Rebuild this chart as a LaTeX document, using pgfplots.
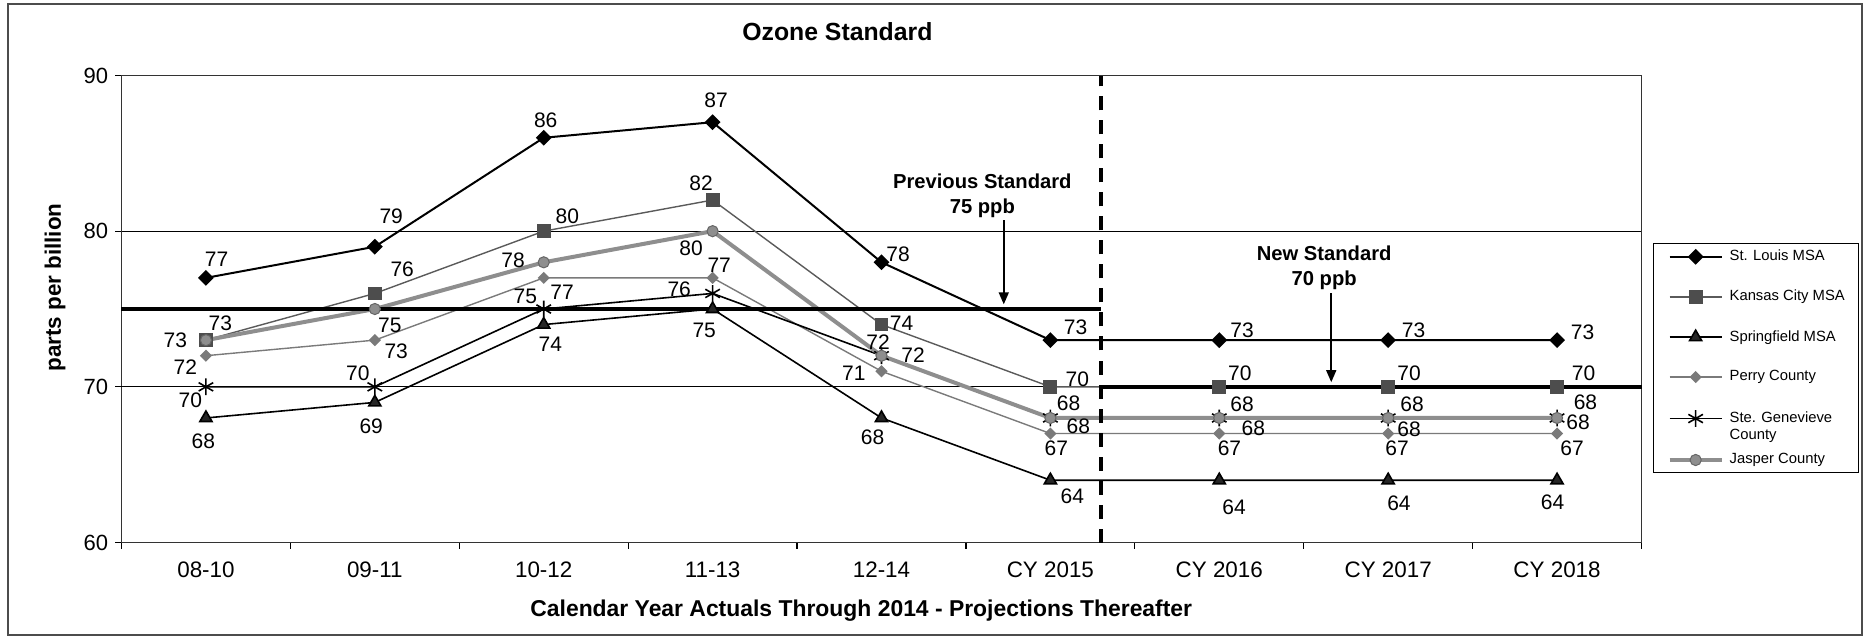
\documentclass[border=0pt]{standalone}
\usepackage{fontspec}
\setmainfont{Liberation Sans}
\usepackage{pgfplots}
\pgfplotsset{compat=1.18}
\usepackage{pgfplotstable}
\usetikzlibrary{arrows.meta}

\definecolor{kcgray}{HTML}{5A5A5A}
\definecolor{kcmark}{HTML}{4D4D4D}
\definecolor{pegray}{HTML}{7A7A7A}
\definecolor{jagray}{HTML}{8E8E8E}

\pgfplotstableread{
x y dx dy
0 77 5.3 9.5
1 79 8.2 15.3
2 86 1 8.8
3 87 1.7 11.2
4 78 8.3 3.8
5 73 12.6 6.2
6 73 11.4 5
7 73 12.7 5
8 73 12.8 4.1
}\stlouis
\pgfplotstableread{
x y dx dy
0 73 7.2 8.3
1 76 13.7 12.2
2 80 11.8 7.2
3 82 -5.8 8.3
4 74 10 0.8
5 70 13.5 3.7
6 70 10.3 6.8
7 70 10.5 6.8
8 70 13.3 6.6
}\kansas
\pgfplotstableread{
x y dx dy
0 68 -1.3 -11.7
1 69 -1.8 -12
2 74 3.3 -10
3 75 -4.2 -10.8
4 68 -4.5 -9.5
5 64 11 -8
6 64 7.4 -13.3
7 64 5.4 -11.7
8 64 -2.2 -11
}\springfield
\pgfplotstableread{
x y dx dy
0 72 -10.3 -5.5
1 73 10.7 -5.5
2 77 9.2 -7.2
3 77 3.3 6.2
4 71 -13.8 -0.8
5 67 3 -7.5
6 67 5.1 -7.2
7 67 4.5 -7.2
8 67 7.5 -7.5
}\perry
\pgfplotstableread{
x y dx dy
0 70 -7.8 -6.8
1 70 -8.5 7
2 75 -9.2 6.2
3 76 -16.7 2.2
4 72 -1.7 6.7
5 68 9.1 7.2
6 68 11.4 6.7
7 68 12 7
8 68 14.2 7.7
}\stegen
\pgfplotstableread{
x y dx dy
0 73 -15.3 0
1 75 7.5 -8.3
2 78 -15.3 1.2
3 80 -10.8 -8.8
4 72 15.8 0.5
5 68 14 -4.2
6 68 17 -5
7 68 10.5 -5.8
8 68 10.5 -2.3
}\jasper

\pgfplotsset{
  lbl/.style={
    nodes near coords,
    visualization depends on={\thisrow{dx}\as\dx},
    visualization depends on={\thisrow{dy}\as\dy},
    every node near coord/.append style={anchor=center, inner sep=0pt,
      text=black, font=\fontsize{10.5}{12}\selectfont,
      xshift=\dx pt, yshift=\dy pt},
  },
}

\begin{document}
\begin{tikzpicture}
\begin{axis}[
  scale only axis,
  width=760pt, height=233.5pt,
  xmin=-0.5, xmax=8.5, ymin=60, ymax=90,
  clip=false,
  /pgf/number format/assume math mode=true,
  axis line style={black!80, line width=0.8pt},
  tick align=outside,
  tick pos=left,
  major tick length=3.2pt,
  tick style={black, line width=0.6pt},
  xtick={-0.5,0.5,...,8.5},
  xticklabels={,,,,,,,,,,},
  extra x ticks={0,1,2,3,4,5,6,7,8},
  extra x tick labels={08-10,09-11,10-12,11-13,12-14,CY 2015,CY 2016,CY 2017,CY 2018},
  extra x tick style={major tick length=0pt},
  xticklabel style={font=\fontsize{11.2}{13}\selectfont, anchor=base, yshift=-17.3pt},
  ytick={60,70,80,90},
  yticklabel style={font=\fontsize{11}{13}\selectfont, anchor=east},
  ymajorgrids,
  grid style={black, line width=0.6pt},
  title={Ozone Standard},
  title style={at={(axis description cs:0.471,1.0675)}, anchor=center,
    font=\bfseries\fontsize{12.4}{14}\selectfont},
  xlabel={Calendar Year Actuals Through 2014 - Projections Thereafter},
  xlabel style={at={(axis description cs:0.4867,-0.1467)}, anchor=center,
    font=\bfseries\fontsize{11.45}{13}\selectfont},
  ylabel={parts per billion},
  ylabel style={at={(axis description cs:-0.04375,0.546)}, anchor=center,
    font=\bfseries\fontsize{11.2}{13}\selectfont},
  legend cell align=left,
  legend image code/.code={\draw[mark repeat=2,mark phase=2,#1]
    plot coordinates {(0pt,0pt) (13pt,0pt) (26pt,0pt)};},
  legend style={at={(axis description cs:1.0076,0.6407)}, anchor=north west,
    draw=black, line width=0.6pt, font=\fontsize{7.4}{9}\selectfont,
    inner xsep=7pt, inner ysep=3pt, row sep=13.2pt, column sep=3pt,
    nodes={inner sep=0pt}},
]
% reference lines
\addplot[forget plot, black, line width=0.6pt] coordinates {(-0.5,70) (8.5,70)};
\addplot[black, line width=1pt, mark=square*, mark size=2.3pt,
  mark options={rotate=45, solid, fill=black}, lbl] table[x=x,y=y]{\stlouis};
\addlegendentry{St. Louis MSA}
\addplot[kcgray, line width=0.7pt, mark=square*, mark size=3.1pt,
  mark options={solid, fill=kcmark, draw=kcmark}, lbl] table[x=x,y=y]{\kansas};
\addlegendentry{Kansas City MSA}
\addplot[black, line width=0.8pt, mark=triangle*, mark size=3.5pt,
  mark options={solid, fill=black!85}, lbl] table[x=x,y=y]{\springfield};
\addlegendentry{Springfield MSA}
\addplot[pegray, line width=0.7pt, mark=square*, mark size=1.8pt,
  mark options={rotate=45, solid, fill=pegray, draw=pegray}, lbl] table[x=x,y=y]{\perry};
\addlegendentry{Perry County}
\addplot[black, line width=0.8pt, mark=asterisk, mark size=4.2pt,
  mark options={solid, line width=0.8pt}, lbl] table[x=x,y=y]{\stegen};
\addlegendentry{\smash{\rlap{\raisebox{-8.3pt}{County}}}Ste. Genevieve}
\addplot[jagray, line width=2pt, mark=*, mark size=2.8pt,
  mark options={solid, fill=jagray, draw=black!60, line width=0.5pt}, lbl] table[x=x,y=y]{\jasper};
\addlegendentry{Jasper County\rule[-6pt]{0pt}{0pt}}
% standards
\addplot[forget plot, black, line width=1.8pt] coordinates {(-0.5,75) (5.3,75)};
\addplot[forget plot, black, line width=1.8pt] coordinates {(5.3,70) (8.5,70)};
\addplot[forget plot, black, line width=2pt, dash pattern=on 7pt off 5pt] coordinates {(5.3,60) (5.3,90)};
\node[align=center, font=\bfseries\fontsize{10.1}{12.5}\selectfont] at (axis cs:4.597,82.28) {Previous Standard\\75 ppb};
\node[align=center, font=\bfseries\fontsize{10.1}{12.5}\selectfont] at (axis cs:6.621,77.66) {New Standard\\70 ppb};
\draw[black, line width=0.8pt, -{Triangle[length=6pt,width=5pt]}] (axis cs:4.724,80.71) -- (axis cs:4.724,75.3);
\draw[black, line width=0.8pt, -{Triangle[length=6pt,width=5pt]}] (axis cs:6.663,76.02) -- (axis cs:6.663,70.3);
\end{axis}
\draw[line width=0.8pt, black!70] (-56.75pt,-46.25pt) rectangle (870.25pt,269.25pt);
\pgfresetboundingbox
\path[use as bounding box] (-60.75pt,-47.25pt) rectangle (872.25pt,271.25pt);
\end{tikzpicture}
\end{document}
